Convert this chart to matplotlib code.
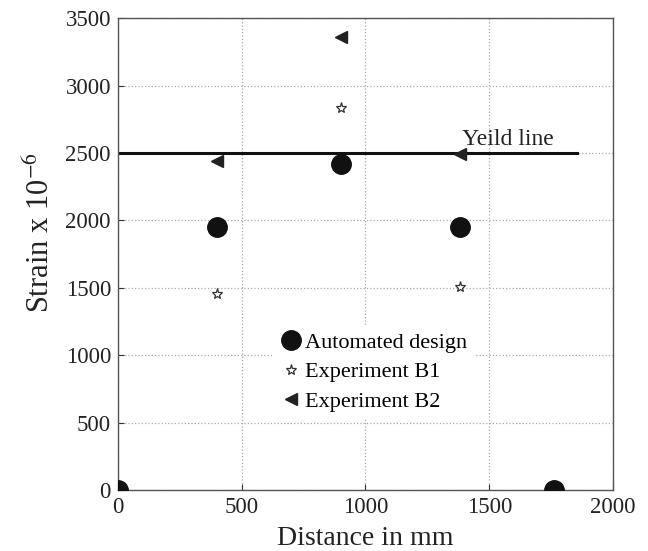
import matplotlib
matplotlib.use("Agg")
import matplotlib.pyplot as plt

plt.rcParams['font.family'] = ['Liberation Serif', 'DejaVu Serif']
plt.rcParams['mathtext.fontset'] = 'stix'

dist_auto = [0, 400, 900, 1380, 1760]
strain_auto = [0, 1950, 2420, 1950, 0]
dist_b1 = [0, 400, 900, 1380, 1760]
strain_b1 = [0, 1455, 2835, 1505, 0]
dist_b2 = [0, 400, 900, 1380, 1760]
strain_b2 = [0, 2445, 3360, 2490, 0]
yield_x = [0, 1855]
yield_y = [2500, 2500]
xticks = [0, 500, 1000, 1500, 2000]
yticks = [0, 500, 1000, 1500, 2000, 2500, 3000, 3500]

fig = plt.figure(figsize=(6.48, 5.51), dpi=100)
ax = fig.add_axes([0.182, 0.1107, 0.764, 0.856])

ax.plot(yield_x, yield_y, color='#111111', lw=2.2, zorder=2)
ax.text(1390, 2560, 'Yeild line', fontsize=17, color='#222222')

ax.plot(dist_b2, strain_b2, ls='none', marker='<', ms=8, color='#222222', label='Experiment B2', zorder=3)
ax.plot(dist_b1, strain_b1, ls='none', marker='*', ms=8, mfc='white', mec='#333333', mew=0.9, label='Experiment B1', zorder=3)
ax.plot(dist_auto, strain_auto, ls='none', marker='o', ms=14, color='#111111', label='Automated design', zorder=4)

handles, labels = ax.get_legend_handles_labels()
order = [2, 1, 0]
leg = ax.legend([handles[i] for i in order], [labels[i] for i in order],
                loc='center left', bbox_to_anchor=(0.292, 0.25), frameon=True,
                fontsize=16, handletextpad=0.1, handlelength=1.0, borderpad=0.3,
                labelspacing=0.4, markerscale=1.0)
leg.get_frame().set_edgecolor('none')
leg.get_frame().set_facecolor('white')
leg.get_frame().set_alpha(1)

ax.set_xlim(0, 2000)
ax.set_ylim(0, 3500)
ax.set_xticks(xticks)
ax.set_yticks(yticks)
ax.tick_params(direction='in', labelsize=16.5, length=4, pad=5, colors='#333333', labelcolor='#222222')
ax.grid(True, ls=':', color='#aaaaaa', lw=0.9)
ax.set_axisbelow(True)
for s in ax.spines.values():
    s.set_color('#555555')
    s.set_linewidth(1.0)

ax.set_xlabel('Distance in mm', fontsize=20, color='#222222', labelpad=6)
ax.set_ylabel('Strain x 10$^{\\mathrm{-6}}$', fontsize=22, color='#222222')
ax.yaxis.set_label_coords(-0.125, 0.545)

fig.savefig('out.png', dpi=100, facecolor='white')
